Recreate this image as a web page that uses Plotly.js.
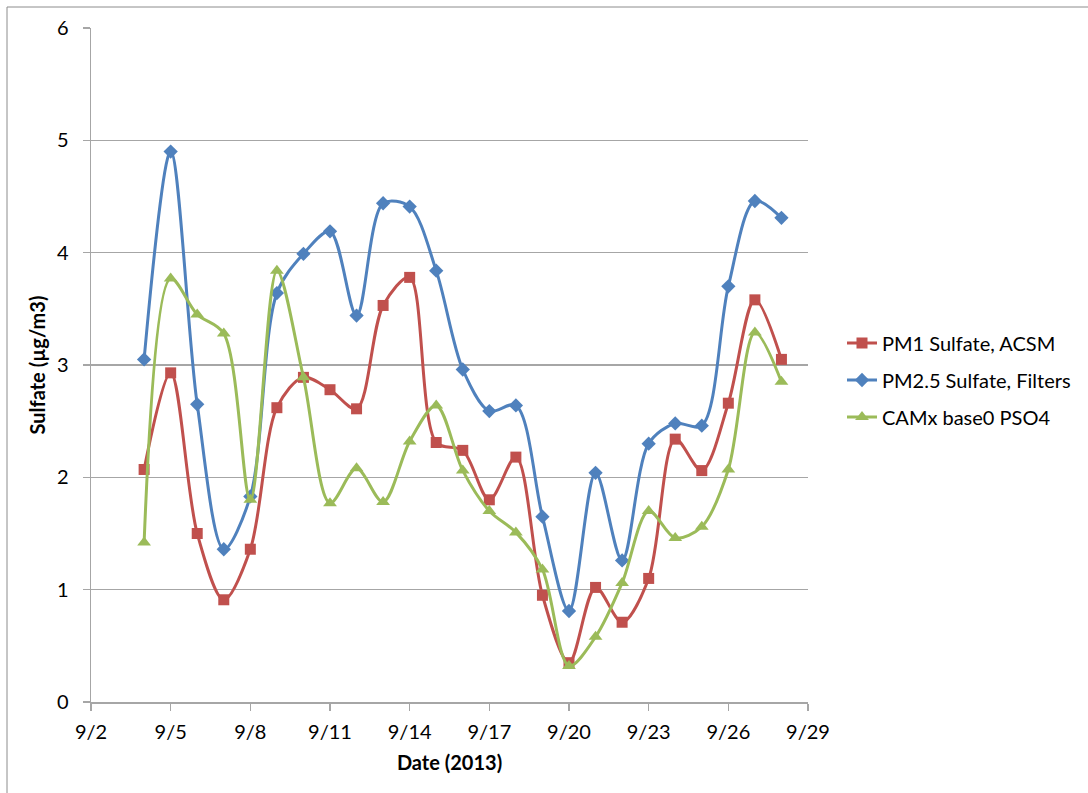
<!DOCTYPE html>
<html>
<head>
<meta charset="utf-8">
<script src="https://cdn.plot.ly/plotly-3.0.1.min.js"></script>
<style>html,body{margin:0;padding:0;background:#fff;}#chart{width:1088px;height:793px;}</style>
</head>
<body>
<div id="chart"></div>
<script>
const dates = ['2013-09-04','2013-09-05','2013-09-06','2013-09-07','2013-09-08','2013-09-09','2013-09-10','2013-09-11','2013-09-12','2013-09-13','2013-09-14','2013-09-15','2013-09-16','2013-09-17','2013-09-18','2013-09-19','2013-09-20','2013-09-21','2013-09-22','2013-09-23','2013-09-24','2013-09-25','2013-09-26','2013-09-27','2013-09-28'];
const pm1Acsm = [2.07,2.93,1.50,0.91,1.36,2.62,2.89,2.78,2.61,3.53,3.78,2.31,2.24,1.80,2.18,0.95,0.35,1.02,0.71,1.10,2.34,2.06,2.66,3.58,3.05];
const pm25Filters = [3.05,4.90,2.65,1.36,1.83,3.64,3.99,4.19,3.44,4.44,4.41,3.84,2.96,2.59,2.64,1.65,0.81,2.04,1.26,2.30,2.48,2.46,3.70,4.46,4.31];
const camxPso4 = [1.42,3.77,3.45,3.28,1.80,3.84,2.89,1.77,2.08,1.78,2.32,2.64,2.06,1.70,1.51,1.18,0.32,0.58,1.06,1.70,1.46,1.56,2.07,3.29,2.85];
const seriesNames = ['PM1 Sulfate, ACSM','PM2.5 Sulfate, Filters','CAMx base0 PSO4'];
const yTicks = [0,1,2,3,4,5,6];

const FONT = 'Lato, "Open Sans", sans-serif';
function tr(y, name, color, symbol, size, grp){
  return {x: dates, y: y, name: name, type: 'scatter', mode: 'lines+markers', legendgroup: grp,
    line: {color: color, width: 3, shape: 'spline', smoothing: 0.9},
    marker: {color: color, symbol: symbol, size: size}};
}
const data = [
  tr(pm1Acsm, seriesNames[0], '#C0504D', 'square', 11, 'a'),
  tr(pm25Filters, seriesNames[1], '#4F81BD', 'diamond', 11, 'b'),
  tr(camxPso4, seriesNames[2], '#9BBB59', 'triangle-up', 12, 'c')
];
const L = 91, R = 808, T = 28, B = 702;
const pw = R - L, ph = B - T;
const bx = (7 - L) / pw, by = 1 + (T - 7) / ph;
const layout = {
  width: 1088, height: 793,
  margin: {l: L, r: 1088 - R, t: T, b: 793 - B},
  paper_bgcolor: '#fff', plot_bgcolor: '#fff',
  font: {family: FONT, size: 20, color: '#000'},
  showlegend: true,
  legend: {x: (842 - L) / pw, y: (B - 380) / ph, xanchor: 'left', yanchor: 'middle',
    font: {family: FONT, size: 20, color: '#000'}, traceorder: 'grouped', tracegroupgap: 8},
  xaxis: {
    type: 'date', range: ['2013-09-02','2013-09-29'], tick0: '2013-09-02', dtick: 3*86400000,
    tickformat: '%-m/%-d', showgrid: false, zeroline: false,
    showline: true, linecolor: '#a6a6a6', linewidth: 1.5,
    ticks: 'outside', ticklen: 7, tickcolor: '#a6a6a6', tickwidth: 1.5,
    ticklabelstandoff: 4,
    tickfont: {family: FONT, size: 20, color: '#000'},
    title: {text: '<b>Date (2013)</b>', font: {family: FONT, size: 20, color: '#000'}, standoff: 14}
  },
  yaxis: {
    range: [0, 6], tickvals: yTicks, ticktext: yTicks.map(String),
    showgrid: true, gridcolor: '#a6a6a6', gridwidth: 1.5, zeroline: false,
    showline: true, linecolor: '#a6a6a6', linewidth: 1.5,
    ticks: 'outside', ticklen: 7, tickcolor: '#a6a6a6', tickwidth: 1.5,
    ticklabelstandoff: 10,
    tickfont: {family: FONT, size: 20, color: '#000'},
    title: {text: '<b>Sulfate (µg/m3)</b>', font: {family: FONT, size: 20, color: '#000'}, standoff: 6}
  },
  shapes: [
    {type: 'line', xref: 'paper', yref: 'paper', x0: bx, x1: bx, y0: by, y1: -0.2, line: {color: '#8c8c8c', width: 1}},
    {type: 'line', xref: 'paper', yref: 'paper', x0: bx, x1: 1.5, y0: by, y1: by, line: {color: '#8c8c8c', width: 1}}
  ]
};
Plotly.newPlot('chart', data, layout, {displayModeBar: false, staticPlot: true});
</script>
</body>
</html>
